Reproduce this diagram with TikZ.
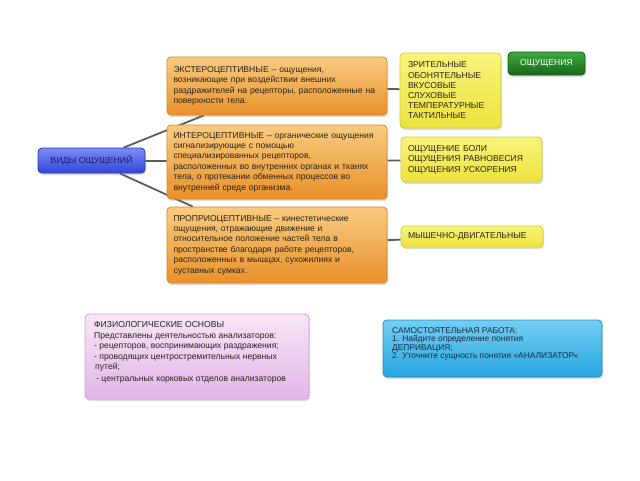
\documentclass[tikz,border=0pt]{standalone}
\usepackage{fontspec}
\setmainfont{Liberation Sans}
\usetikzlibrary{shadows,backgrounds}
\definecolor{orT}{HTML}{F9CB80}
\definecolor{orB}{HTML}{E8912A}
\definecolor{orD}{HTML}{D8852A}
\definecolor{yeT}{HTML}{F8F47A}
\definecolor{yeB}{HTML}{ECE33E}
\definecolor{yeD}{HTML}{D2CA3C}
\definecolor{grT}{HTML}{40A840}
\definecolor{grB}{HTML}{17681A}
\definecolor{grD}{HTML}{145A16}
\definecolor{blT}{HTML}{7C8BF6}
\definecolor{blB}{HTML}{3346DA}
\definecolor{blD}{HTML}{2A37A6}
\definecolor{blTx}{HTML}{16206A}
\definecolor{piT}{HTML}{F7E6F7}
\definecolor{piB}{HTML}{E3B4E8}
\definecolor{piD}{HTML}{C8A4CC}
\definecolor{cyT}{HTML}{74CEF3}
\definecolor{cyB}{HTML}{27A5DF}
\definecolor{cyD}{HTML}{1E8CC4}
\definecolor{cyTx}{HTML}{1A2A44}
\definecolor{lineC}{HTML}{5C5C5C}
\definecolor{txtC}{HTML}{2A2218}
\begin{document}
\begin{tikzpicture}[x=1pt,y=-1pt,
  font=\fontsize{8.6}{10.4}\selectfont,
  box/.style={rounded corners=4pt, line width=0.8pt, inner sep=0pt,
    drop shadow={opacity=0.28, shadow xshift=1pt, shadow yshift=-2pt}},
  orbox/.style={box, draw=orD, top color=orT, bottom color=orB, text=txtC,
    text width=207pt, inner xsep=6.5pt, align=left},
  yebox/.style={box, draw=yeD, top color=yeT, bottom color=yeB, text=txtC,
    align=left, inner xsep=8pt},
  conn/.style={draw=lineC, line width=1.8pt},
  txt/.style={inner sep=0pt, align=left, anchor=north west}
]
\useasboundingbox (0,0) rectangle (640,480);

% main node
\node[box, draw=blD, top color=blT, bottom color=blB, text=blTx,
  minimum width=107pt, minimum height=25pt, font=\fontsize{8.8}{10.4}\selectfont]
  (vid) at (91.5,160.5) {ВИДЫ ОЩУЩЕНИЙ};

% orange boxes
\node[orbox, minimum height=58pt] (ext) at (277,86)
  {ЭКСТЕРОЦЕПТИВНЫЕ – ощущения,\\
   возникающие при воздействии внешних\\
   раздражителей на рецепторы, расположенные на\\
   поверхности тела.};
\node[orbox, minimum height=74pt] (int) at (277,162)
  {ИНТЕРОЦЕПТИВНЫЕ – органические ощущения\\
   сигнализирующие с помощью\\
   специализированных рецепторов,\\
   расположенных во внутренних органах и тканях\\
   тела, о протекании обменных процессов во\\
   внутренней среде организма.};
\node[orbox, minimum height=76pt] (prop) at (277,245)
  {ПРОПРИОЦЕПТИВНЫЕ – кинестетические\\
   ощущения, отражающие движение и\\
   относительное положение частей тела в\\
   пространстве благодаря работе рецепторов,\\
   расположенных в мышцах, сухожилиях и\\
   суставных сумках.};

% yellow boxes
\node[yebox, text width=85pt, inner xsep=8pt, minimum height=75pt,
  font=\fontsize{8.6}{10.2}\selectfont] (y1) at (450.5,90.5)
  {ЗРИТЕЛЬНЫЕ\\ ОБОНЯТЕЛЬНЫЕ\\ ВКУСОВЫЕ\\ СЛУХОВЫЕ\\ ТЕМПЕРАТУРНЫЕ\\ ТАКТИЛЬНЫЕ};
\node[yebox, text width=127pt, inner xsep=7pt, minimum height=45pt] (y2) at (471.5,159.5)
  {ОЩУЩЕНИЕ БОЛИ\\ ОЩУЩЕНИЯ РАВНОВЕСИЯ\\ ОЩУЩЕНИЯ УСКОРЕНИЯ};
\node[yebox, text width=128pt, inner xsep=7pt, minimum height=21pt] (y3) at (472,236.5)
  {МЫШЕЧНО-ДВИГАТЕЛЬНЫЕ};

% green title
\node[box, draw=grD, top color=grT, bottom color=grB, text=white,
  minimum width=77pt, minimum height=23pt] (osh) at (546.5,63.5) {ОЩУЩЕНИЯ};

% pink box
\node[box, draw=piD, top color=piT, bottom color=piB,
  minimum width=224pt, minimum height=85pt] (pink) at (197,356.5) {};
\node[txt, text=txtC, font=\fontsize{8.6}{10.5}\selectfont] (pinktxt) at (94,321.5)
  {ФИЗИОЛОГИЧЕСКИЕ ОСНОВЫ\\
   Представлены деятельностью анализаторов:\\
   - рецепторов, воспринимающих раздражения;\\
   - проводящих центростремительных нервных\\
   \hspace*{1pt}путей;\\[0.8pt]
   \hspace*{2pt}- центральных корковых отделов анализаторов};

% cyan box
\node[box, draw=cyD, top color=cyT, bottom color=cyB,
  minimum width=219pt, minimum height=57pt] (cyan) at (492.5,348.5) {};
\node[txt, text=cyTx, font=\fontsize{8.4}{8.3}\selectfont] (cyantxt) at (392,327.5)
  {САМОСТОЯТЕЛЬНАЯ РАБОТА:\\
   1. Найдите определение понятия\\
   ДЕПРИВАЦИЯ;\\
   2. Уточните сущность понятия «АНАЛИЗАТОР»};

% connectors
\begin{scope}[on background layer]
  \draw[conn] (vid) -- (ext);
  \draw[conn] (vid) -- (int);
  \draw[conn] (vid) -- (prop);
  \draw[conn] (ext) -- (y1);
  \draw[conn] (int) -- (y2);
  \draw[conn] (prop) -- (y3);
\end{scope}
\end{tikzpicture}
\end{document}
